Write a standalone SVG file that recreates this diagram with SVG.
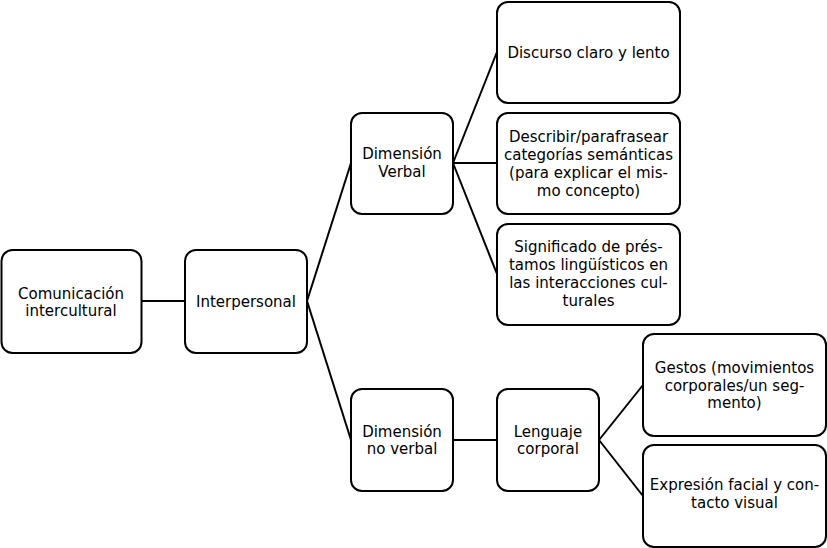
<svg xmlns="http://www.w3.org/2000/svg" width="827" height="548" viewBox="0 0 827 548">
<style>
.n rect{fill:#fff;stroke:#000;stroke-width:2}
.n text{font-family:"DejaVu Sans",sans-serif;font-size:15px;fill:#000;text-anchor:middle}
#edges line{stroke:#000;stroke-width:2}
</style>
<rect width="827" height="548" fill="#fff"/>
<g id="edges">
<line x1="141" y1="301" x2="185" y2="301"/>
<line x1="307" y1="301" x2="351" y2="163"/>
<line x1="307" y1="301" x2="351" y2="440"/>
<line x1="453" y1="163" x2="497" y2="52"/>
<line x1="453" y1="163" x2="497" y2="163"/>
<line x1="453" y1="163" x2="497" y2="274"/>
<line x1="453" y1="440" x2="497" y2="440"/>
<line x1="599" y1="440" x2="643" y2="385"/>
<line x1="599" y1="440" x2="643" y2="496"/>
</g>
<g id="n1" class="n"><rect x="1.5" y="250" width="140" height="103" rx="11"/><text x="71" y="299">Comunicación</text><text x="71" y="316">intercultural</text></g>
<g id="n2" class="n"><rect x="185" y="250" width="122" height="103" rx="11"/><text x="246" y="307">Interpersonal</text></g>
<g id="n3" class="n"><rect x="351" y="113" width="102" height="101" rx="11"/><text x="402" y="159">Dimensión</text><text x="402" y="177">Verbal</text></g>
<g id="n4" class="n"><rect x="497" y="2" width="183" height="101" rx="11"/><text x="588.5" y="58">Discurso claro y lento</text></g>
<g id="n5" class="n"><rect x="497" y="113" width="183" height="101" rx="11"/><text x="588.5" y="141.5">Describir/parafrasear</text><text x="588.5" y="159.5">categorías semánticas</text><text x="588.5" y="177.5">(para explicar el mis-</text><text x="588.5" y="195.5">mo concepto)</text></g>
<g id="n6" class="n"><rect x="497" y="224" width="183" height="101" rx="11"/><text x="588.5" y="252">Significado de prés-</text><text x="588.5" y="270">tamos lingüísticos en</text><text x="588.5" y="288">las interacciones cul-</text><text x="588.5" y="306">turales</text></g>
<g id="n7" class="n"><rect x="351" y="389" width="102" height="102" rx="11"/><text x="402" y="437">Dimensión</text><text x="402" y="454">no verbal</text></g>
<g id="n8" class="n"><rect x="497" y="389" width="102" height="102" rx="11"/><text x="548" y="437">Lenguaje</text><text x="548" y="454">corporal</text></g>
<g id="n9" class="n"><rect x="643" y="334" width="183" height="102" rx="11"/><text x="734.5" y="373">Gestos (movimientos</text><text x="734.5" y="391">corporales/un seg-</text><text x="734.5" y="408">mento)</text></g>
<g id="n10" class="n"><rect x="643" y="445" width="183" height="102" rx="11"/><text x="734.5" y="490">Expresión facial y con-</text><text x="734.5" y="508">tacto visual</text></g>
</svg>
